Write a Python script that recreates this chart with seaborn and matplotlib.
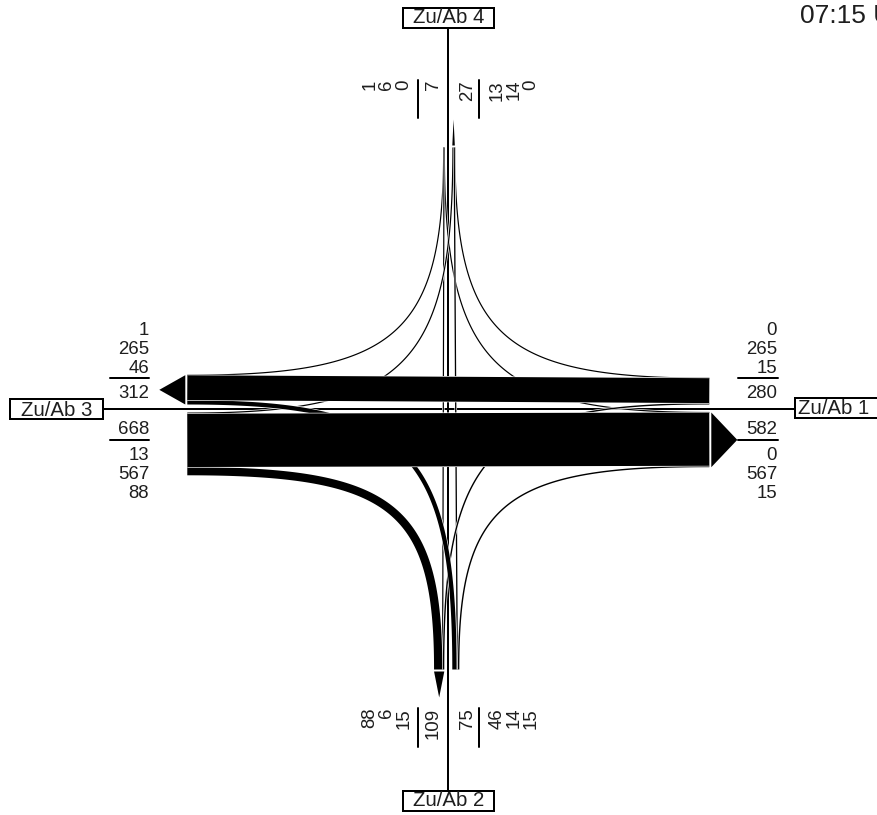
import numpy as np
import pandas as pd
import matplotlib
matplotlib.use('Agg')
import matplotlib.pyplot as plt
import matplotlib.patheffects as pe
from matplotlib.patches import Rectangle
import seaborn as sns

# Knotenstroeme: Fahrzeuge von Zufahrt (Zeile) nach Ausfahrt (Spalte)
arms = [1, 2, 3, 4]
from_1 = [0, 15, 265, 0]
from_2 = [15, 0, 46, 14]
from_3 = [567, 88, 0, 13]
from_4 = [0, 6, 1, 0]
arm_names = ['Zu/Ab 1', 'Zu/Ab 2', 'Zu/Ab 3', 'Zu/Ab 4']
time_label = '07:15 Uhr'

flows = pd.DataFrame([from_1, from_2, from_3, from_4], index=arms, columns=arms)

sns.set_theme(style='white')
plt.rcParams['font.family'] = ['Liberation Sans', 'DejaVu Sans']

W, H = 878, 815
fig = plt.figure(figsize=(W / 100, H / 100), dpi=100)
ax = fig.add_axes([0, 0, 1, 1])
ax.set_xlim(0, W)
ax.set_ylim(H, 0)
ax.axis('off')

PT = 0.72          # points per pixel
cx, cy = 448.3, 408.5
L = 261            # centre to end of the bands
gap = 4            # bands start this far from the centre line
scale = 0.094      # px per vehicle
k = 0.82           # bezier tightness
C = np.array([cx, cy])

# outward direction of each arm (pixel coords, y down)
direction = {1: np.array([1, 0]), 2: np.array([0, 1]),
             3: np.array([-1, 0]), 4: np.array([0, -1])}


def nxt(a, n):
    return (a - 1 + n) % 4 + 1


def n_in(a):
    dx, dy = direction[a]
    return np.array([dy, -dx])


# lateral offsets: inbound inner->outer = left, straight, right
start_off = {}
for a in arms:
    o = gap
    for b in [nxt(a, 1), nxt(a, 2), nxt(a, 3)]:
        w = flows.loc[a, b] * scale
        start_off[(a, b)] = o + w / 2
        o += w
# outbound inner->outer = left-turn arrivals, straight, right-turn arrivals
end_off = {}
for b in arms:
    o = gap
    for a in [nxt(b, 3), nxt(b, 2), nxt(b, 1)]:
        w = flows.loc[a, b] * scale
        end_off[(a, b)] = o + w / 2
        o += w

# centre lines
ax.plot([103, 795], [cy, cy], color='black', lw=2 * PT, zorder=1)
ax.plot([cx, cx], [27.5, 790.5], color='black', lw=2 * PT, zorder=1)

streams = [(a, b) for a in arms for b in arms if a != b]
streams.sort(key=lambda s: flows.loc[s[0], s[1]])

t = np.linspace(0, 1, 120)[:, None]
for a, b in streams:
    w = flows.loc[a, b] * scale
    p0 = C + L * direction[a] + start_off[(a, b)] * n_in(a)
    p3 = C + L * direction[b] - end_off[(a, b)] * n_in(b)
    if b == nxt(a, 2):
        pts = np.vstack([p0, p3])
    else:
        q = p0 + np.dot(p3 - p0, direction[a]) * direction[a]
        p1 = p0 + k * (q - p0)
        p2 = p3 + k * (q - p3)
        pts = ((1 - t) ** 3) * p0 + 3 * ((1 - t) ** 2) * t * p1 \
            + 3 * (1 - t) * t ** 2 * p2 + t ** 3 * p3
    lw = max(w, 1.2)
    sns.lineplot(x=pts[:, 0], y=pts[:, 1], sort=False, estimator=None,
                 color='black', linewidth=lw * PT, solid_capstyle='butt',
                 path_effects=[pe.Stroke(linewidth=(lw + 1.3) * PT, foreground='white'),
                               pe.Normal()],
                 ax=ax, zorder=2, legend=False)

# arrows on the outbound bands
for b in arms:
    wb = flows[b].sum() * scale
    d = direction[b]
    no = -n_in(b)
    base = C + (L + 2) * d
    tri = np.array([base + gap * no, base + (gap + wb) * no,
                    C + (L + 28) * d + (gap + wb / 2) * no])
    ax.fill(tri[:, 0], tri[:, 1], color='black', lw=0, zorder=3)

# labels
txt = '#1e1e1e'
fs = 13.4
dh = 6.65  # half digit height in px

# horizontal arms: (arm, x of right edge, separator x range)
for a, xr, x0, x1 in [(3, 149, 110, 149), (1, 777, 738, 778)]:
    inb = [flows.loc[a, nxt(a, i)] for i in (1, 2, 3)]
    outb = [flows.loc[nxt(a, i), a] for i in (3, 2, 1)]
    sides = [(inb, n_in(a)[1]), (outb, -n_in(a)[1])]
    for vals, sgn in sides:
        if sgn > 0:
            tot_y, sep_y, comp = cy + 18.5, cy + 31.5, [45, 64, 83]
        else:
            tot_y, sep_y, comp = cy - 17.5, cy - 30.5, [-42, -61, -80]
        ax.text(xr, tot_y + dh, str(sum(vals)), ha='right', va='baseline',
                fontsize=fs, color=txt, zorder=5)
        ax.plot([x0, x1], [sep_y, sep_y], color='black', lw=2 * PT, zorder=5)
        for v, off in zip(vals, comp):
            ax.text(xr, cy + off + dh, str(v), ha='right', va='baseline',
                    fontsize=fs, color=txt, zorder=5)

# vertical arms: (arm, top of text, separator y range)
for a, ytop, y0, y1 in [(4, 80, 80, 118), (2, 708, 708, 747)]:
    inb = [flows.loc[a, nxt(a, i)] for i in (1, 2, 3)]
    outb = [flows.loc[nxt(a, i), a] for i in (3, 2, 1)]
    sides = [(inb, n_in(a)[0]), (outb, -n_in(a)[0])]
    for vals, sgn in sides:
        tot_x = cx + sgn * 17
        sep_x = cx + sgn * 30.5
        ax.text(tot_x + dh, ytop, str(sum(vals)), rotation=90,
                rotation_mode='anchor', ha='right', va='baseline',
                fontsize=fs, color=txt, zorder=5)
        ax.plot([sep_x, sep_x], [y0, y1], color='black', lw=2 * PT, zorder=5)
        for v, off in zip(vals, [46.5, 63.5, 80.5]):
            ax.text(cx + sgn * off + dh, ytop, str(v), rotation=90,
                    rotation_mode='anchor', ha='right', va='baseline',
                    fontsize=fs, color=txt, zorder=5)

# arm boxes: (name, left, top, width, text x, text baseline, ha)
boxes = [(arm_names[3], 403, 7.5, 91, 448.5, 23.3, 'center'),
         (arm_names[1], 403, 790.5, 91, 448.5, 806, 'center'),
         (arm_names[2], 10, 399, 93, 56.5, 416, 'center'),
         (arm_names[0], 795, 398, 92, 798, 414, 'left')]
for name, bx, by, bw, tx, ty, ha in boxes:
    ax.add_patch(Rectangle((bx, by), bw, 20, facecolor='white',
                           edgecolor='black', lw=2 * PT, zorder=6))
    ax.text(tx, ty, name, ha=ha, va='baseline', fontsize=14.7,
            color=txt, zorder=7)

# time stamp runs off the right edge, as in the reference
ax.text(800, 23, time_label, ha='left', va='baseline', fontsize=19,
        color=txt, zorder=7)

fig.savefig('out.png', dpi=100)
